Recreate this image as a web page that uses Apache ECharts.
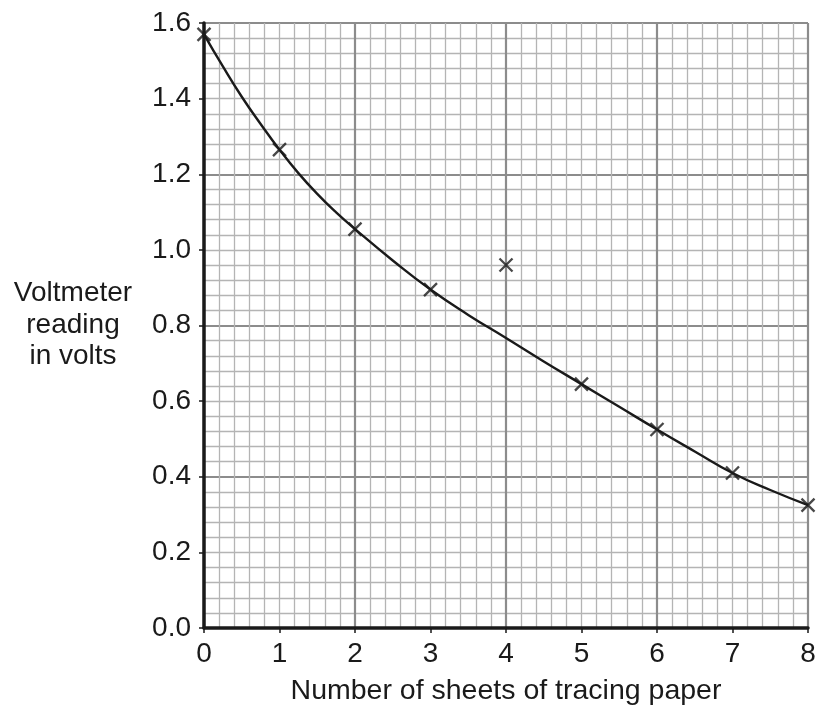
<!DOCTYPE html>
<html>
<head>
<meta charset="utf-8">
<script src="https://cdn.jsdelivr.net/npm/echarts@6/dist/echarts.min.js"></script>
<style>html,body{margin:0;padding:0;background:#fff}#c{width:817px;height:708px}</style>
</head>
<body>
<div id="c"></div>
<script>
// measured points
var sheets = [0, 1, 2, 3, 4, 5, 6, 7, 8];
var volts = [1.57, 1.265, 1.055, 0.895, 0.96, 0.645, 0.525, 0.41, 0.325];
// best-fit curve
var curveX = [0, 0.25, 0.5, 0.75, 1, 1.25, 1.5, 1.75, 2, 2.5, 3, 3.5, 4, 4.5, 5, 5.5, 6, 6.5, 7, 7.5, 8];
var curveY = [1.57, 1.485, 1.405, 1.333, 1.265, 1.203, 1.148, 1.099, 1.055, 0.972, 0.895, 0.828, 0.767, 0.705, 0.645, 0.585, 0.525, 0.467, 0.41, 0.365, 0.325];
var yLabelLines = ['Voltmeter', 'reading', 'in volts'];
var xTitle = 'Number of sheets of tracing paper';

var font = 'Liberation Sans, Arial, sans-serif';
var chart = echarts.init(document.getElementById('c'), null, {renderer: 'canvas'});
var pts = sheets.map(function (s, i) { return [s, volts[i]]; });
var curve = curveX.map(function (x, i) { return [x, curveY[i]]; });

chart.setOption({
  animation: false,
  grid: {left: 204, top: 23, width: 604, height: 605, containLabel: false, outerBoundsMode: 'none'},
  xAxis: [{
    type: 'value', min: 0, max: 8, interval: 1, z: 5,
    axisLine: {show: true, onZero: false, lineStyle: {color: '#1a1a1a', width: 3.5}},
    axisTick: {show: true, length: 5, lineStyle: {color: '#1a1a1a', width: 1.5}},
    axisLabel: {fontSize: 28, color: '#1a1a1a', fontFamily: font, margin: 12},
    splitLine: {show: false},
    name: xTitle, nameLocation: 'middle', nameGap: 49,
    nameTextStyle: {fontSize: 28.5, color: '#1a1a1a', fontFamily: font}
  }, {
    type: 'value', min: 0, max: 8, interval: 2, z: 1,
    axisLine: {show: false}, axisTick: {show: false}, axisLabel: {show: false},
    splitLine: {show: true, lineStyle: {color: '#8c8c8c', width: 2.2}},
    minorTick: {show: false, splitNumber: 10},
    minorSplitLine: {show: true, lineStyle: {color: '#b4b4b4', width: 1.3}}
  }],
  yAxis: [{
    type: 'value', min: 0, max: 1.6, interval: 0.2, z: 5,
    axisLine: {show: true, onZero: false, lineStyle: {color: '#1a1a1a', width: 3.5}},
    axisTick: {show: true, length: 5, lineStyle: {color: '#1a1a1a', width: 1.5}},
    axisLabel: {fontSize: 28, color: '#1a1a1a', fontFamily: font, margin: 13,
      formatter: function (v) { return v.toFixed(1); }},
    splitLine: {show: false}
  }, {
    type: 'value', min: 0, max: 1.6, interval: 0.4, z: 1,
    axisLine: {show: false}, axisTick: {show: false}, axisLabel: {show: false},
    splitLine: {show: true, lineStyle: {color: '#8c8c8c', width: 2.2}},
    minorTick: {show: false, splitNumber: 10},
    minorSplitLine: {show: true, lineStyle: {color: '#b4b4b4', width: 1.3}}
  }],
  graphic: [{
    type: 'text', z: 10,
    style: {text: yLabelLines.join('\n'), x: 73, y: 278, fontSize: 28, lineHeight: 31.5, fill: '#1a1a1a',
      fontFamily: font, align: 'center', textAlign: 'center', verticalAlign: 'top'}
  }],
  series: [{
    type: 'line', data: curve, smooth: 0.5, showSymbol: false, z: 6,
    lineStyle: {color: '#1a1a1a', width: 2.4}
  }, {
    type: 'scatter', data: pts, z: 7,
    symbol: 'path://M0,0L10,10M10,0L0,10', symbolSize: 13,
    itemStyle: {color: 'none', borderColor: '#1a1a1a', borderWidth: 2.3}
  }]
});
</script>
</body>
</html>
